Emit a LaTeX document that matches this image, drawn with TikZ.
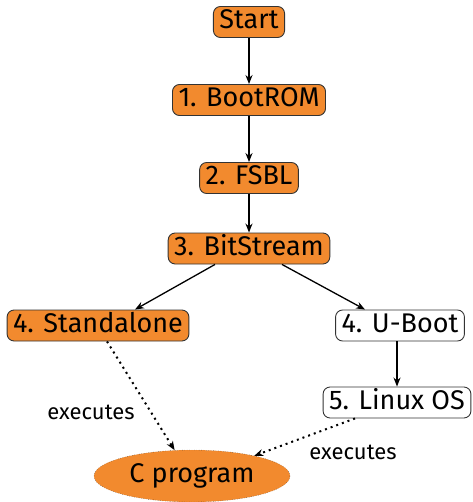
\documentclass[tikz,border=0pt]{standalone}
\usepackage{fontspec}
\setmainfont{Fira Sans}
\usetikzlibrary{shapes.geometric,arrows.meta}
\definecolor{boxorange}{HTML}{F28A2E}
\begin{document}
\begin{tikzpicture}[x=1pt,y=-1pt,
  every node/.style={font=\fontsize{27}{30}\selectfont},
  box/.style={draw=black!80,line width=0.9pt,rounded corners=7pt,inner xsep=6pt,inner ysep=2pt,minimum height=31pt,text height=19pt,text depth=5pt},
  obox/.style={box,fill=boxorange},
  wbox/.style={box,fill=white},
  arr/.style={-{Stealth[length=9pt,width=7pt]},line width=1.3pt},
  darr/.style={-{Stealth[length=9pt,width=7pt]},line width=2pt,dash pattern={on 2pt off 4pt}},
  lbl/.style={font=\fontsize{22}{26}\selectfont}]
\useasboundingbox (0,0) rectangle (472,502);
\node[obox] (start) at (249,22) {Start};
\node[obox] (boot) at (249,100) {1. BootROM};
\node[obox] (fsbl) at (249,178) {2. FSBL};
\node[obox] (bit) at (249,248.5) {3. BitStream};
\node[obox] (sa) at (98,325.5) {4. Standalone};
\node[wbox] (ub) at (400,325.5) {4. U-Boot};
\node[wbox] (lx) at (397,402.5) {5. Linux OS};
\node[ellipse,draw=black!80,dotted,fill=boxorange,minimum width=196pt,minimum height=52pt,inner sep=0pt] (cp) at (192,476) {C program};
\node[lbl] (e1) at (91,412) {executes};
\node[lbl] (e2) at (353,452) {executes};
\draw[arr] (start) -- (boot);
\draw[arr] (boot) -- (fsbl);
\draw[arr] (fsbl) -- (bit);
\draw[arr] ([xshift=-34pt]bit.south) -- ([xshift=37pt]sa.north);
\draw[arr] ([xshift=33pt]bit.south) -- ([xshift=-35pt]ub.north);
\draw[arr] ([xshift=-3pt]ub.south) -- ([xshift=0pt]lx.north);
\draw[darr] ([xshift=9pt]sa.south) -- (cp.124);
\draw[darr] ([xshift=-42pt]lx.south) -- (cp.18);
\end{tikzpicture}
\end{document}
